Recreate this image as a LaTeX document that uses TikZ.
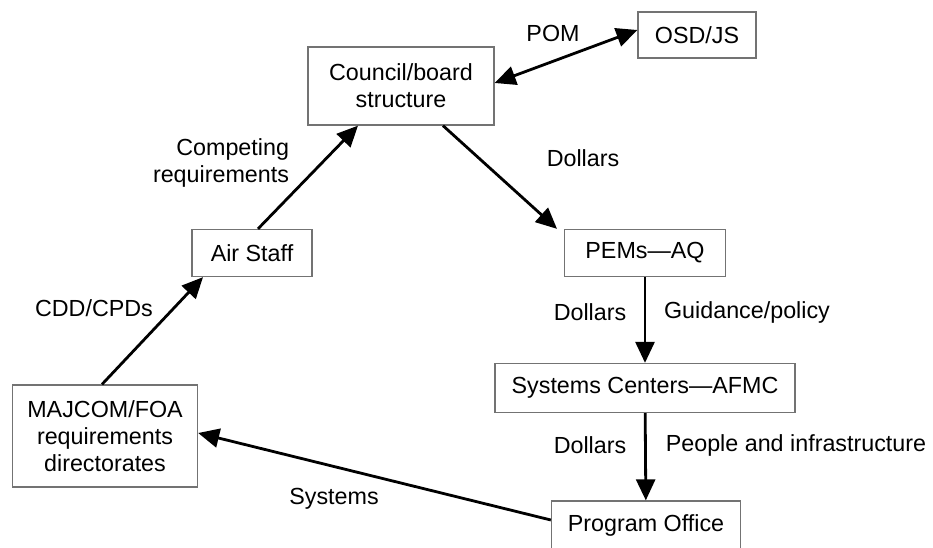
\documentclass[tikz,border=0pt]{standalone}
\usepackage{fontspec}
\setmainfont{Liberation Sans}
\usetikzlibrary{arrows.meta}
\tikzset{
  box/.style={draw=black!55, line width=1.3pt, align=center, inner sep=0pt},
  flow/.style={-{Triangle[length=21pt,width=19pt]}, line width=2.8pt},
  lbl/.style={align=center}
}
\begin{document}
\begin{tikzpicture}[x=1pt, y=-1pt, font=\fontsize{23.3}{27}\selectfont]
\useasboundingbox (0,0) rectangle (933,548);
% boxes
\node[box, minimum width=186pt, minimum height=78pt] (council) at (401,86) {Council/board\\structure};
\node[box, minimum width=118pt, minimum height=46pt] (osd) at (697,35) {OSD/JS};
\node[box, minimum width=120pt, minimum height=47pt] (air) at (252,253) {Air Staff};
\node[box, minimum width=185pt, minimum height=102pt] (majcom) at (105,436) {MAJCOM/FOA\\requirements\\directorates};
\node[box, minimum width=161pt, minimum height=47pt] (pems) at (645,253) {PEMs---AQ};
\node[box, minimum width=300pt, minimum height=49pt] (sysc) at (645,388) {Systems Centers---AFMC};
\node[box, minimum width=189pt, minimum height=48pt] (po) at (646,525) {Program Office};
% arrows
\draw[flow, {Triangle[length=21pt,width=19pt]}-{Triangle[length=21pt,width=19pt]}] (council.east |- 0,83) -- (osd.west |- 0,30);
\draw[flow] (air.north -| 258,0) -- (council.south -| 358,0);
\draw[flow] (majcom.north -| 102,0) -- (air.south -| 203,0);
\draw[flow] (council.south -| 443,0) -- (pems.north -| 557,0);
\draw[flow] (pems) -- (sysc);
\draw[flow] (sysc) -- (po);
\draw[flow] (po.west |- 0,520) -- (majcom.east |- 0,433);
% labels
\node[lbl] (pom) at (553,33) {POM};
\node[lbl, align=right] (comp) at (221,163) {Competing\\requirements};
\node[lbl] (cdd) at (94,308) {CDD/CPDs};
\node[lbl] (dol1) at (583,158) {Dollars};
\node[lbl] (dol2) at (590,312) {Dollars};
\node[lbl] (guid) at (747,312) {Guidance/policy};
\node[lbl] (dol3) at (590,445) {Dollars};
\node[lbl] (ppl) at (796,445) {People and infrastructure};
\node[lbl] (sysl) at (334,499) {Systems};
\end{tikzpicture}
\end{document}
